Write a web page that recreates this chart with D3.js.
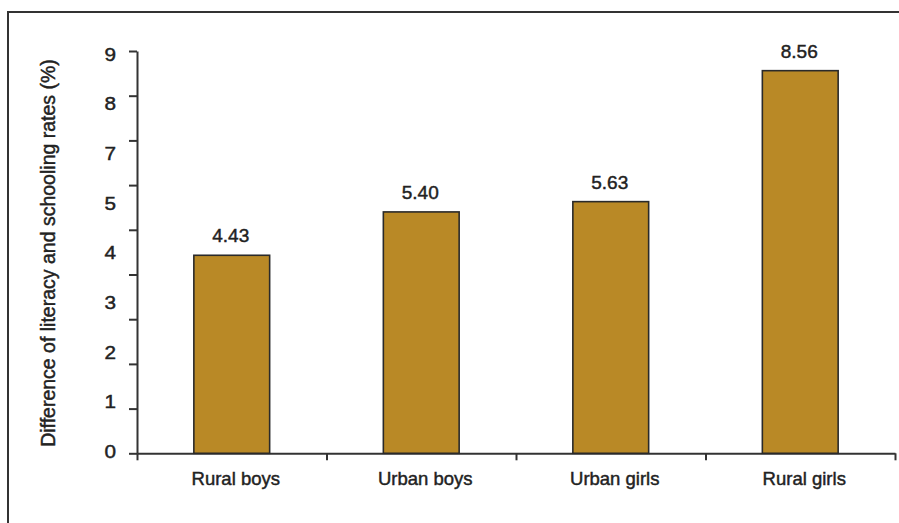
<!DOCTYPE html>
<html>
<head>
<meta charset="utf-8">
<script src="https://cdn.jsdelivr.net/npm/d3@7/dist/d3.min.js"></script>
<style>
  html, body { margin: 0; padding: 0; background: #fff; }
  svg { display: block; font-family: "Liberation Sans", Arial, Helvetica, sans-serif; }
  svg text { stroke: #222; stroke-width: 0.45px; }
</style>
</head>
<body>
<svg id="chart" width="899" height="523"></svg>
<script>
// Groups and their literacy/schooling gap (%)
const categories = ["Rural boys", "Urban boys", "Urban girls", "Rural girls"];
const values = [4.43, 5.40, 5.63, 8.56];
// Printed y tick labels, top to bottom
const yTickLabels = ["9", "8", "7", "5", "4", "3", "2", "1", "0"];
const yTickValues = [0, 1, 2, 3, 4, 5, 6, 7, 8, 9];

const svg = d3.select("#chart");
const ink = "#222";
const barFill = "#b98926";

// Outer frame (open at the right and bottom edges of the page)
svg.append("rect")
  .attr("x", 8).attr("y", 12)
  .attr("width", 920).attr("height", 540)
  .attr("fill", "none")
  .attr("stroke", "#333")
  .attr("stroke-width", 2);

const plotLeft = 137, plotRight = 895, plotTop = 51, plotBottom = 453.3;

const y = d3.scaleLinear().domain([0, 9]).range([plotBottom, plotTop]);
const x = d3.scaleBand().domain(categories).range([plotLeft, plotRight]).padding(0);
const xEdges = d3.scaleLinear().domain([0, categories.length]).range([plotLeft, plotRight]);

// Y axis: tick marks only, labels set separately
const yAxis = svg.append("g")
  .attr("transform", `translate(${plotLeft},0)`)
  .call(d3.axisLeft(y).tickValues(yTickValues).tickFormat("").tickSize(8).tickSizeOuter(0));
yAxis.selectAll("path, line").attr("stroke", "#333").attr("stroke-width", 2);

// Tick labels, evenly spread between the top and bottom ticks
const yLab = d3.scalePoint().domain(yTickLabels).range([y(9) + 3, y(0) - 2]);
svg.append("g")
  .selectAll("text")
  .data(yTickLabels)
  .join("text")
  .attr("transform", d => `translate(${plotLeft - 21},${yLab(d)}) scale(1.12,1)`)
  .attr("dy", "0.36em")
  .attr("text-anchor", "end")
  .attr("font-size", 18.5)
  .attr("fill", ink)
  .text(d => d);

// X axis: ticks at the category boundaries
const xAxis = svg.append("g")
  .attr("transform", `translate(0,${plotBottom})`)
  .call(d3.axisBottom(xEdges).tickValues(d3.range(0, categories.length + 1)).tickFormat("").tickSize(7).tickSizeOuter(0));
xAxis.selectAll("path, line").attr("stroke", "#333").attr("stroke-width", 2);

// Bars
const barW = x.bandwidth() * 0.4;
svg.append("g")
  .selectAll("rect")
  .data(values)
  .join("rect")
  .attr("x", (d, i) => x(categories[i]) + (x.bandwidth() - barW) / 2)
  .attr("y", d => y(d))
  .attr("width", barW)
  .attr("height", d => y(0) - y(d))
  .attr("fill", barFill)
  .attr("stroke", "#2a2a2a")
  .attr("stroke-width", 1.6);

// Value labels
svg.append("g")
  .selectAll("text")
  .data(values)
  .join("text")
  .attr("x", (d, i) => x(categories[i]) + x.bandwidth() / 2 - 1)
  .attr("y", d => y(d) - 13)
  .attr("text-anchor", "middle")
  .attr("font-size", 19)
  .attr("fill", ink)
  .text(d => d.toFixed(2));

// Category labels
svg.append("g")
  .selectAll("text")
  .data(categories)
  .join("text")
  .attr("x", d => x(d) + x.bandwidth() / 2 + 4)
  .attr("y", 485)
  .attr("text-anchor", "middle")
  .attr("font-size", 18.5)
  .attr("fill", ink)
  .text(d => d);

// Y axis title
svg.append("text")
  .attr("transform", "translate(55,253) rotate(-90)")
  .attr("text-anchor", "middle")
  .attr("font-size", 19.5)
  .attr("fill", ink)
  .text("Difference of literacy and schooling rates (%)");
</script>
</body>
</html>
